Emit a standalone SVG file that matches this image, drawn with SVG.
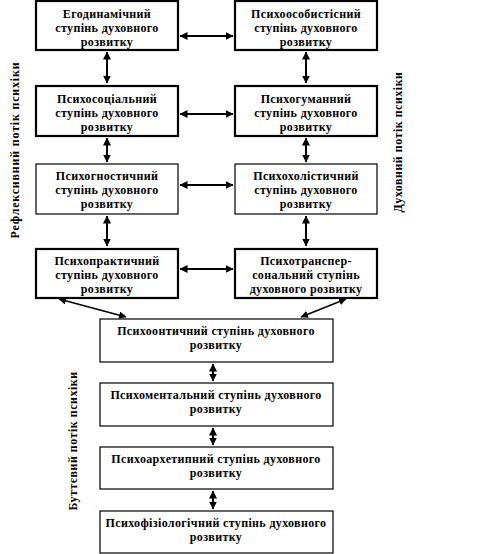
<svg xmlns="http://www.w3.org/2000/svg" width="481" height="554" viewBox="0 0 481 554">
<defs>
<marker id="ah" viewBox="0 0 8 8" refX="7.5" refY="4" markerWidth="4" markerHeight="4" orient="auto-start-reverse" markerUnits="strokeWidth">
<path d="M0,0 L8,4 L0,8 Z" fill="#000"/>
</marker>
<marker id="ah2" viewBox="0 0 8 8" refX="7.5" refY="4" markerWidth="5" markerHeight="5" orient="auto-start-reverse" markerUnits="strokeWidth">
<path d="M0,0 L8,4 L0,8 Z" fill="#000"/>
</marker>
</defs>
<style>
.thick{fill:#fff;stroke:#000;stroke-width:2.2}
.thin{fill:#fff;stroke:#000;stroke-width:1.2}
text{font-family:"Liberation Serif","Times New Roman",serif;font-weight:bold;font-size:12px;letter-spacing:0.35px;fill:#000;text-anchor:middle}
.side{letter-spacing:0.6px}
.c{stroke:#000;stroke-width:2;fill:none;marker-start:url(#ah);marker-end:url(#ah)}
.d{stroke:#000;stroke-width:1.5;fill:none;marker-start:url(#ah2);marker-end:url(#ah2)}
</style>
<rect width="481" height="554" fill="#fff"/>
<g id="connectors">
<line class="c" x1="180" y1="36" x2="233" y2="36"/>
<line class="c" x1="180" y1="114" x2="233" y2="114"/>
<line class="c" x1="180" y1="185" x2="233" y2="185"/>
<line class="c" x1="180" y1="269" x2="233" y2="269"/>
<line class="c" x1="107" y1="52" x2="107" y2="83"/>
<line class="c" x1="107" y1="138" x2="107" y2="162"/>
<line class="c" x1="107" y1="216" x2="107" y2="246"/>
<line class="c" x1="306" y1="52" x2="306" y2="83"/>
<line class="c" x1="306" y1="138" x2="306" y2="162"/>
<line class="c" x1="306" y1="216" x2="306" y2="246"/>
<line class="c" x1="213" y1="364" x2="213" y2="381"/>
<line class="c" x1="213" y1="428" x2="213" y2="445"/>
<line class="c" x1="213" y1="491" x2="213" y2="509"/>
<line class="d" x1="59" y1="299" x2="126" y2="317"/>
<line class="d" x1="346" y1="299" x2="301" y2="317"/>
</g>
<g id="n1"><rect class="thick" x="36" y="1" width="142" height="49"/>
<text x="107" y="18">Егодинамічний</text><text x="107" y="32">ступінь духовного</text><text x="107" y="46">розвитку</text></g>
<g id="n2"><rect class="thick" x="235" y="1" width="142" height="49"/>
<text x="306" y="18">Психоособистісний</text><text x="306" y="32">ступінь духовного</text><text x="306" y="46">розвитку</text></g>
<g id="n3"><rect class="thick" x="36" y="86" width="142" height="50"/>
<text x="107" y="103">Психосоціальний</text><text x="107" y="117">ступінь духовного</text><text x="107" y="131">розвитку</text></g>
<g id="n4"><rect class="thick" x="235" y="86" width="142" height="50"/>
<text x="306" y="103">Психогуманний</text><text x="306" y="117">ступінь духовного</text><text x="306" y="131">розвитку</text></g>
<g id="n5"><rect class="thin" x="36" y="164" width="142" height="50"/>
<text x="107" y="180">Психогностичний</text><text x="107" y="194">ступінь духовного</text><text x="107" y="208">розвитку</text></g>
<g id="n6"><rect class="thin" x="235" y="164" width="142" height="50"/>
<text x="306" y="180">Психохолістичний</text><text x="306" y="194">ступінь духовного</text><text x="306" y="208">розвитку</text></g>
<g id="n7"><rect class="thick" x="36" y="249" width="142" height="49"/>
<text x="107" y="265">Психопрактичний</text><text x="107" y="279">ступінь духовного</text><text x="107" y="293">розвитку</text></g>
<g id="n8"><rect class="thick" x="235" y="249" width="142" height="49"/>
<text x="306" y="265">Психотранспер-</text><text x="306" y="279">сональний ступінь</text><text x="306" y="293">духовного розвитку</text></g>
<g id="n9"><rect class="thin" x="100" y="319" width="233" height="43"/>
<text x="216" y="335">Психоонтичний ступінь духовного</text><text x="216" y="349">розвитку</text></g>
<g id="n10"><rect class="thin" x="100" y="383" width="233" height="43"/>
<text x="216" y="399">Психоментальний ступінь духовного</text><text x="216" y="413">розвитку</text></g>
<g id="n11"><rect class="thin" x="100" y="447" width="233" height="42"/>
<text x="216" y="463">Психоархетипний ступінь духовного</text><text x="216" y="477">розвитку</text></g>
<g id="n12"><rect class="thin" x="100" y="511" width="233" height="42"/>
<text x="216" y="527">Психофізіологічний ступінь духовного</text><text x="216" y="541">розвитку</text></g>
<g id="labels">
<text class="side" transform="translate(19,150) rotate(-90)" style="letter-spacing:0.8px">Рефлексивний потік психіки</text>
<text class="side" transform="translate(402,142) rotate(-90)" style="letter-spacing:0.5px">Духовний потік психіки</text>
<text class="side" transform="translate(77,441) rotate(-90)" style="letter-spacing:0.5px">Буттєвий потік психіки</text>
</g>
</svg>
